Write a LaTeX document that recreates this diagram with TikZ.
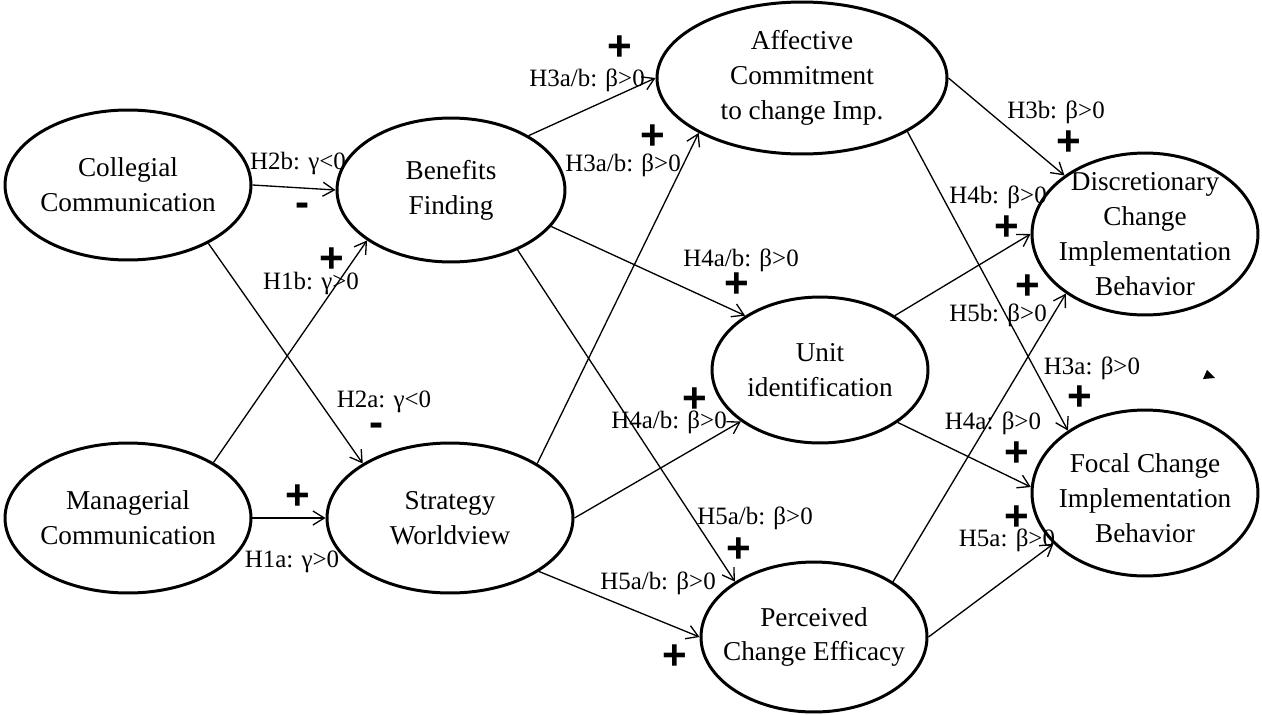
\documentclass[tikz,border=0pt]{standalone}
\usepackage{fontspec}
\setmainfont{Liberation Serif}
\newfontfamily\signfont{Liberation Sans}
\usetikzlibrary{shapes.geometric,arrows.meta}

\tikzset{
  construct/.style={draw, line width=1.7pt, ellipse, inner sep=0pt},
  ctext/.style={align=center, inner sep=0pt, font=\fontsize{15.5}{19.9}\selectfont},
  link/.style={draw, line width=0.75pt, -{Straight Barb[length=6.5pt,width=8pt]}},
  hyp/.style={inner sep=0pt, font=\fontsize{14.2}{16}\selectfont},
  signmark/.style={inner sep=0pt, font=\signfont\bfseries\fontsize{24}{24}\selectfont},
}

\begin{document}
\begin{tikzpicture}[x=0.02cm, y=-0.02cm]
\useasboundingbox (0,0) rectangle (1262,714);

% constructs
\node[construct, minimum width=4.92cm, minimum height=3.00cm] (C) at (128,185) {};
\node[construct, minimum width=4.92cm, minimum height=3.00cm] (M) at (128,518) {};
\node[construct, minimum width=4.56cm, minimum height=2.88cm] (B) at (451,190) {};
\node[construct, minimum width=4.92cm, minimum height=3.00cm] (S) at (450,518) {};
\node[construct, minimum width=5.80cm, minimum height=3.04cm] (A) at (802,78) {};
\node[construct, minimum width=4.32cm, minimum height=2.92cm] (U) at (820,370) {};
\node[construct, minimum width=4.52cm, minimum height=3.00cm] (P) at (814,637) {};
\node[construct, minimum width=4.52cm, minimum height=3.24cm] (D) at (1145,234) {};
\node[construct, minimum width=4.52cm, minimum height=3.32cm] (F) at (1145,493) {};

% construct names
\node[ctext] (Ct) at (C) {Collegial\\Communication};
\node[ctext] (Mt) at (M) {Managerial\\Communication};
\node[ctext] (Bt) at (B) {Benefits\\Finding};
\node[ctext] (St) at (S) {Strategy\\Worldview};
\node[ctext] (At) at (A) {Affective\\Commitment\\to change Imp.};
\node[ctext] (Ut) at (U) {Unit\\identification};
\node[ctext] (Pt) at (P) {Perceived\\Change Efficacy};
\node[ctext] (Dt) at (D) {Discretionary\\Change\\Implementation\\Behavior};
\node[ctext] (Ft) at ([yshift=-0.1cm]F) {Focal Change\\Implementation\\Behavior};

% hypothesised paths
\draw[link] (C.0) -- (B.180);
\draw[link] (C.-36) -- (S.148);
\draw[link] (M.33) -- (B.-149);
\draw[link] (M.0) -- (S.180);
\draw[link] (B.35) -- (A.180);
\draw[link] (B.-20.6) -- (U.144.5);
\draw[link] (B.-42) -- (P.145.8);
\draw[link] (S.32) -- (A.208);
\draw[link] (S.0) -- (U.-147);
\draw[link] (S.-31.5) -- (P.180);
\draw[link] (A.0) -- (D.144.5);
\draw[link] (A.-27.4) -- (F.141.8);
\draw[link] (U.36.5) -- (D.180);
\draw[link] (U.-34) -- (F.177);
\draw[link] (P.35.8) -- (D.-143.4);
\draw[link] (P.0) -- (F.-151);

% hypothesis labels
\node[hyp] (h2b)  at (298,163)  {H2b: γ<0};
\node[hyp] (h1b)  at (311,283)  {H1b: γ>0};
\node[hyp] (h2a)  at (384,402)  {H2a: γ<0};
\node[hyp] (h1a)  at (292,562)  {H1a: γ>0};
\node[hyp] (h3ab1) at (587,80)  {H3a/b: β>0};
\node[hyp] (h3ab2) at (623,165) {H3a/b: β>0};
\node[hyp] (h4ab1) at (741,260) {H4a/b: β>0};
\node[hyp] (h4ab2) at (669,422) {H4a/b: β>0};
\node[hyp] (h5ab1) at (755,518) {H5a/b: β>0};
\node[hyp] (h5ab2) at (658,583) {H5a/b: β>0};
\node[hyp] (h3b)  at (1056,112) {H3b: β>0};
\node[hyp] (h4b)  at (998,197)  {H4b: β>0};
\node[hyp] (h5b)  at (998,315)  {H5b: β>0};
\node[hyp] (h3a)  at (1092,368) {H3a: β>0};
\node[hyp] (h4a)  at (993,423)  {H4a: β>0};
\node[hyp] (h5a)  at (1007,540) {H5a: β>0};

% expected signs
\node[signmark] (s1)  at (303,210)  {-};
\node[signmark] (s2)  at (332,260)  {+};
\node[signmark] (s3)  at (377,430)  {-};
\node[signmark] (s4)  at (298,497)  {+};
\node[signmark] (s5)  at (620,48)   {+};
\node[signmark] (s6)  at (653,137)  {+};
\node[signmark] (s7)  at (737,285)  {+};
\node[signmark] (s8)  at (695,400)  {+};
\node[signmark] (s9)  at (739,550)  {+};
\node[signmark] (s10) at (675,657)  {+};
\node[signmark] (s11) at (1069,143) {+};
\node[signmark] (s12) at (1007,228) {+};
\node[signmark] (s13) at (1028,287) {+};
\node[signmark] (s14) at (1080,398) {+};
\node[signmark] (s15) at (1017,454) {+};
\node[signmark] (s16) at (1017,518) {+};

% small marker
\fill (1207,370) -- (1203,379) -- (1215,378) -- cycle;
\end{tikzpicture}
\end{document}
